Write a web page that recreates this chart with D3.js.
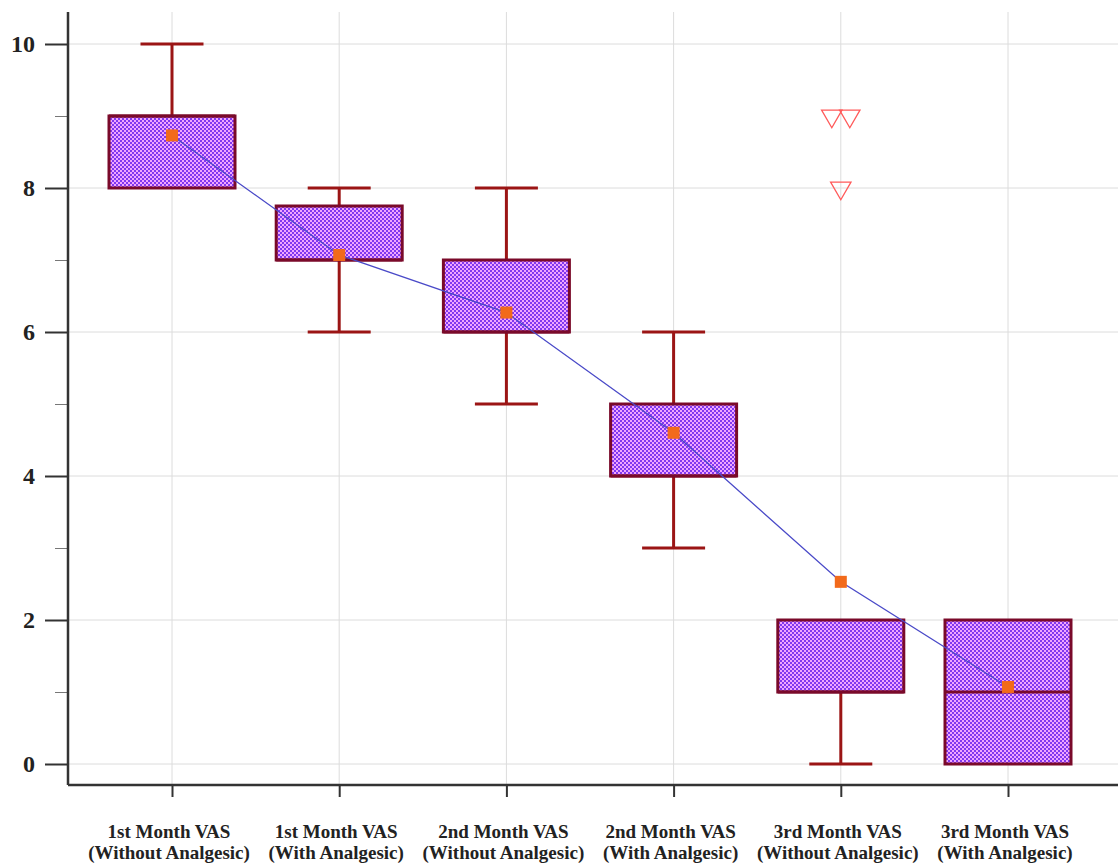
<!DOCTYPE html>
<html><head><meta charset="utf-8">
<script src="https://cdn.jsdelivr.net/npm/d3@7"></script>
<style>body{margin:0;background:#fff}svg{display:block}
.lbl{font-family:"Liberation Serif","Times New Roman",serif;font-weight:bold;fill:#222}</style>
</head><body><svg id="c" width="1118" height="866"></svg>
<script>
const categories = [
  ["1st Month VAS","(Without Analgesic)"],
  ["1st Month VAS","(With Analgesic)"],
  ["2nd Month VAS","(Without Analgesic)"],
  ["2nd Month VAS","(With Analgesic)"],
  ["3rd Month VAS","(Without Analgesic)"],
  ["3rd Month VAS","(With Analgesic)"]
];
const whiskerLow  = [8, 6, 5, 3, 0, 0];
const q1          = [8, 7, 6, 4, 1, 0];
const median      = [9, 7, 6, 4, 1, 1];
const q3          = [9, 7.75, 7, 5, 2, 2];
const whiskerHigh = [10, 8, 8, 6, 2, 2];
const means       = [8.73, 7.07, 6.27, 4.6, 2.53, 1.07];
// outliers: [category index, value, horizontal jitter slot]
const outliers = [[4, 9, -1], [4, 9, 1], [4, 8, 0]];
const yTicks = [0, 2, 4, 6, 8, 10];
const yMinor = [1, 3, 5, 7, 9];

const svg = d3.select("#c");
const L = 68, R = 1118, T = 12, B = 785;
const y = d3.scaleLinear().domain([0, 10]).range([764, 44]);
const x = d3.scalePoint().domain(d3.range(categories.length)).range([172, 1008]);
const bw = 126;

const defs = svg.append("defs");
const pat = defs.append("pattern").attr("id","chk").attr("patternUnits","userSpaceOnUse")
  .attr("width",4).attr("height",4);
pat.append("rect").attr("width",4).attr("height",4).attr("fill","#f0a6ff");
pat.append("rect").attr("width",2).attr("height",2).attr("fill","#8038f0");
pat.append("rect").attr("x",2).attr("y",2).attr("width",2).attr("height",2).attr("fill","#8038f0");

// grid
svg.append("g").selectAll("line").data(yTicks).join("line")
  .attr("x1", L).attr("x2", R).attr("y1", d=>y(d)).attr("y2", d=>y(d))
  .attr("stroke","#dcdcdc").attr("stroke-width",1);
svg.append("g").selectAll("line").data(d3.range(categories.length)).join("line")
  .attr("x1", d=>x(d)).attr("x2", d=>x(d)).attr("y1", T).attr("y2", B)
  .attr("stroke","#dcdcdc").attr("stroke-width",1);

// axes
const ya = d3.axisLeft(y).tickValues(yTicks).tickSize(23).tickPadding(10).tickFormat(d3.format("d"));
const gy = svg.append("g").attr("transform",`translate(${L},0)`).call(ya);
gy.select(".domain").remove();
gy.selectAll(".tick line").attr("stroke","#333").attr("stroke-width",2);
gy.selectAll(".tick text").attr("class","lbl").attr("font-size",24);
const gym = svg.append("g").attr("transform",`translate(${L},0)`)
  .call(d3.axisLeft(y).tickValues(yMinor).tickSize(13).tickFormat(""));
gym.select(".domain").remove();
gym.selectAll(".tick line").attr("stroke","#777").attr("stroke-width",1);
svg.append("line").attr("x1",L).attr("x2",L).attr("y1",T).attr("y2",B).attr("stroke","#333").attr("stroke-width",2.5);
svg.append("line").attr("x1",L).attr("x2",R).attr("y1",B).attr("y2",B).attr("stroke","#333").attr("stroke-width",2.5);

const gx = svg.append("g").attr("transform",`translate(0,${B})`)
  .call(d3.axisBottom(x).tickSize(12).tickFormat(""));
gx.select(".domain").remove();
gx.selectAll(".tick line").attr("stroke","#333").attr("stroke-width",2);
const xl = svg.append("g");
categories.forEach((c,i)=>{
  const t = xl.append("text").attr("class","lbl").attr("x", x(i)).attr("text-anchor","middle")
    .attr("font-size",19);
  t.append("tspan").attr("x",x(i)-3).attr("y",838).text(c[0]);
  t.append("tspan").attr("x",x(i)-3).attr("y",859).text(c[1]);
});

const wc = "#9b1515", bc = "#7a0a2a";
const g = svg.append("g");
categories.forEach((c,i)=>{
  const cx = x(i);
  if (whiskerHigh[i] > q3[i]) {
    g.append("line").attr("x1",cx).attr("x2",cx).attr("y1",y(q3[i])).attr("y2",y(whiskerHigh[i])).attr("stroke",wc).attr("stroke-width",3);
    g.append("line").attr("x1",cx-bw/4).attr("x2",cx+bw/4).attr("y1",y(whiskerHigh[i])).attr("y2",y(whiskerHigh[i])).attr("stroke",wc).attr("stroke-width",3);
  }
  if (whiskerLow[i] < q1[i]) {
    g.append("line").attr("x1",cx).attr("x2",cx).attr("y1",y(q1[i])).attr("y2",y(whiskerLow[i])).attr("stroke",wc).attr("stroke-width",3);
    g.append("line").attr("x1",cx-bw/4).attr("x2",cx+bw/4).attr("y1",y(whiskerLow[i])).attr("y2",y(whiskerLow[i])).attr("stroke",wc).attr("stroke-width",3);
  }
  g.append("rect").attr("x",cx-bw/2).attr("width",bw).attr("y",y(q3[i])).attr("height",y(q1[i])-y(q3[i]))
    .attr("fill","url(#chk)").attr("stroke",bc).attr("stroke-width",3);
  g.append("line").attr("x1",cx-bw/2).attr("x2",cx+bw/2).attr("y1",y(median[i])).attr("y2",y(median[i])).attr("stroke",bc).attr("stroke-width",3);
});

// mean line
svg.append("path").datum(means)
  .attr("d", d3.line().x((d,i)=>x(i)).y(d=>y(d)))
  .attr("fill","none").attr("stroke","#4a4ac8").attr("stroke-width",1.3);
svg.append("g").selectAll("rect").data(means).join("rect")
  .attr("x",(d,i)=>x(i)-6).attr("y",d=>y(d)-6).attr("width",12).attr("height",12)
  .attr("fill","#f26a1b");

// outliers
const tri = d3.symbol().type(d3.symbolTriangle).size(180);
svg.append("g").selectAll("path").data(outliers).join("path")
  .attr("d", tri)
  .attr("transform", d=>`translate(${x(d[0])+d[2]*9},${y(d[1])}) rotate(180)`)
  .attr("fill","none").attr("stroke","#ff5a5a").attr("stroke-width",1.3);
</script></body></html>
